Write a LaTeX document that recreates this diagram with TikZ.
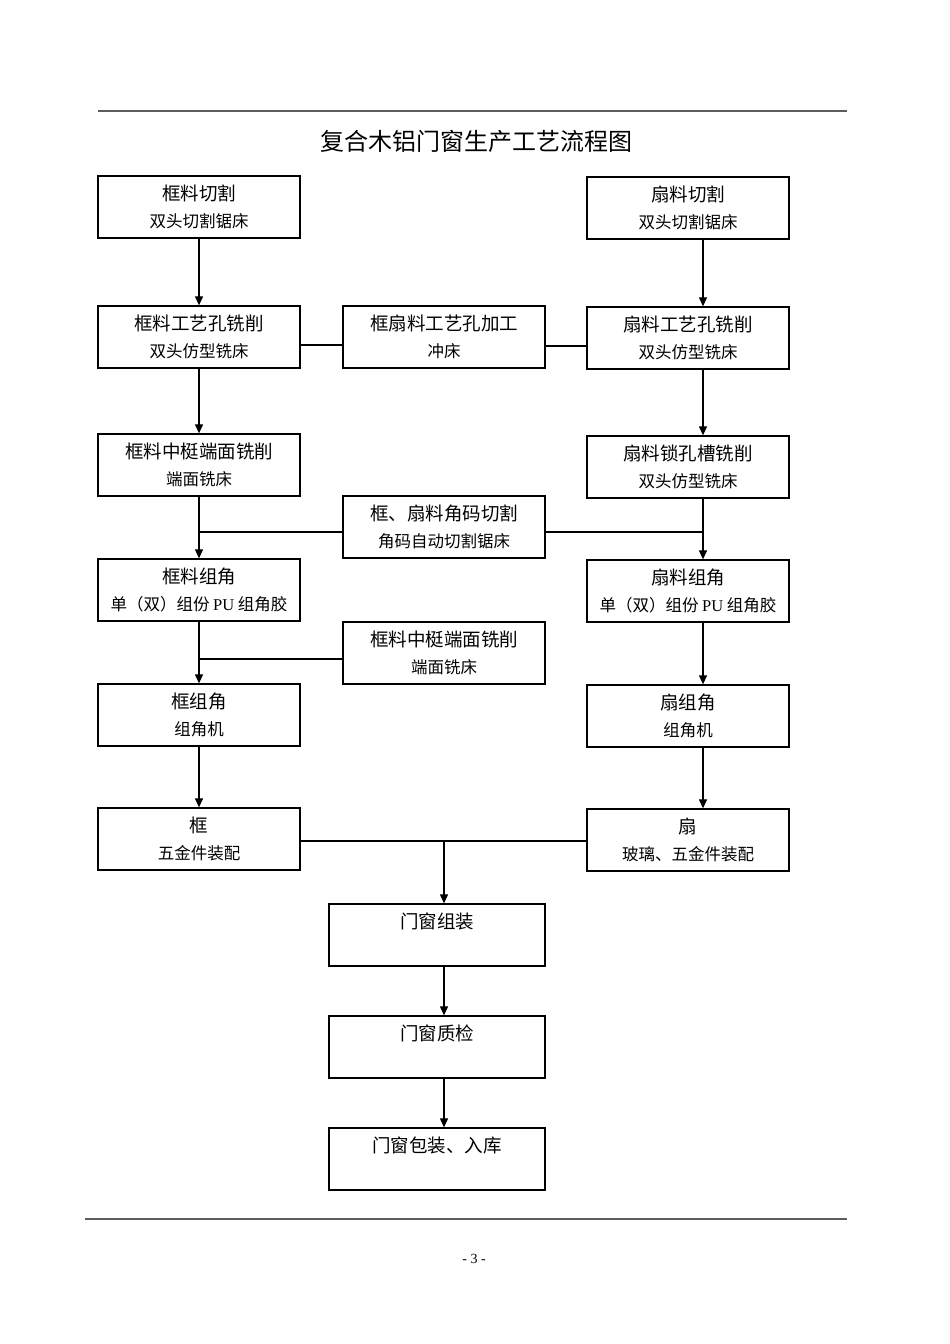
\documentclass[tikz,border=0pt]{standalone}
\usepackage{fontspec}
\setmainfont{Liberation Serif}
\newfontfamily\cjk{Noto Sans CJK SC}
\usetikzlibrary{arrows.meta,calc}
\definecolor{RuleGray}{HTML}{5C5C5C}
\newcommand{\headfs}{\cjk\fontsize{18.5}{27}\selectfont}
\newcommand{\toolfs}{\fontsize{16.5}{20}\selectfont}

\begin{document}
\begin{tikzpicture}[x=1pt,y=-1pt,
          stepbox/.style={draw=black,fill=white,line width=1.3pt,
                          minimum width=202pt,minimum height=62pt,
                          inner sep=0pt,align=center,font=\headfs},
          finalbox/.style={stepbox,minimum width=216pt,
                           text height=16pt,text depth=30pt},
          flow/.style={-{Triangle[length=9pt,width=8pt]},line width=1.2pt},
          link/.style={line width=1.2pt}]
        \useasboundingbox (0,0) rectangle (950,1344);
        % page rules and heading
        \draw[RuleGray,line width=2pt] (98,111) -- (847,111);
        \draw[RuleGray,line width=2pt] (85,1219) -- (847,1219);
        \node[font=\cjk\fontsize{24}{28}\selectfont] (title) at (476,141)
          {复合木铝门窗生产工艺流程图};
        \node[font=\fontsize{14}{16}\selectfont] (pageNo) at (474,1259) {- 3 -};
        % frame column (left) and sash column (right)
        \foreach \name/\y/\head/\tool in {%
            frameCut/207/框料切割/双头切割锯床,
            frameHole/337/框料工艺孔铣削/双头仿型铣床,
            frameEnd/465/框料中梃端面铣削/端面铣床,
            frameCorner/590/框料组角/单（双）组份 {\rmfamily PU} 组角胶,
            frameJoin/715/框组角/组角机,
            frameDone/839/框/五金件装配}{%
          \node[stepbox] (\name) at (199,\y) {\head\\{\toolfs \tool}};
        }
        \foreach \name/\y/\head/\tool in {%
            sashCut/208/扇料切割/双头切割锯床,
            sashHole/338/扇料工艺孔铣削/双头仿型铣床,
            sashLock/467/扇料锁孔槽铣削/双头仿型铣床,
            sashCorner/591/扇料组角/单（双）组份 {\rmfamily PU} 组角胶,
            sashJoin/716/扇组角/组角机,
            sashDone/840/扇/玻璃、五金件装配}{%
          \node[stepbox] (\name) at (688,\y) {\head\\{\toolfs \tool}};
        }
        % shared operations in the middle
        \node[stepbox] (punch) at (444,337) {框扇料工艺孔加工\\{\toolfs 冲床}};
        \node[stepbox] (cleatCut) at (444,527) {框、扇料角码切割\\{\toolfs 角码自动切割锯床}};
        \node[stepbox] (mullionEnd) at (444,653) {框料中梃端面铣削\\{\toolfs 端面铣床}};
        \node[finalbox] (assemble) at (437,935) {门窗组装};
        \node[finalbox] (inspect) at (437,1047) {门窗质检};
        \node[finalbox] (pack) at (437,1159) {门窗包装、入库};
        % frame line
        \foreach \a/\b in {frameCut/frameHole,frameHole/frameEnd,frameEnd/frameCorner,
                           frameCorner/frameJoin,frameJoin/frameDone}{%
          \draw[flow] (\a.south) -- (\b.north);
        }
        % sash line runs right of the box centres
        \foreach \a/\b in {sashCut/sashHole,sashHole/sashLock,sashLock/sashCorner,
                           sashCorner/sashJoin,sashJoin/sashDone}{%
          \draw[flow] ([xshift=15pt]\a.south) -- ([xshift=15pt]\b.north);
        }
        % side feeds
        \draw[link] ($(frameHole.east)+(0,8)$) -- ($(punch.west)+(0,8)$);
        \draw[link] ($(punch.east)+(0,9)$) -- ($(sashHole.west)+(0,8)$);
        \coordinate (cleatL) at ($(cleatCut.west)+(0,5)$);
        \coordinate (cleatR) at ($(cleatCut.east)+(0,5)$);
        \draw[link] (cleatL) -- (cleatL -| frameEnd.south);
        \draw[link] (cleatR) -- (cleatR -| {$(sashLock.south)+(15,0)$});
        \coordinate (mullionL) at ($(mullionEnd.west)+(0,6)$);
        \draw[link] (mullionL) -- (mullionL -| frameCorner.south);
        % merge of frame and sash
        \coordinate (doneL) at ($(frameDone.east)+(0,2)$);
        \coordinate (doneR) at ($(sashDone.west)+(0,1)$);
        \draw[link] (doneL) -- (doneR);
        \coordinate (merge) at (doneL -| cleatCut.south);
        \draw[flow] (merge) -- (merge |- assemble.north);
        \draw[flow] (assemble.south -| merge) -- (inspect.north -| merge);
        \draw[flow] (inspect.south -| merge) -- (pack.north -| merge);
      \end{tikzpicture}
\end{document}
